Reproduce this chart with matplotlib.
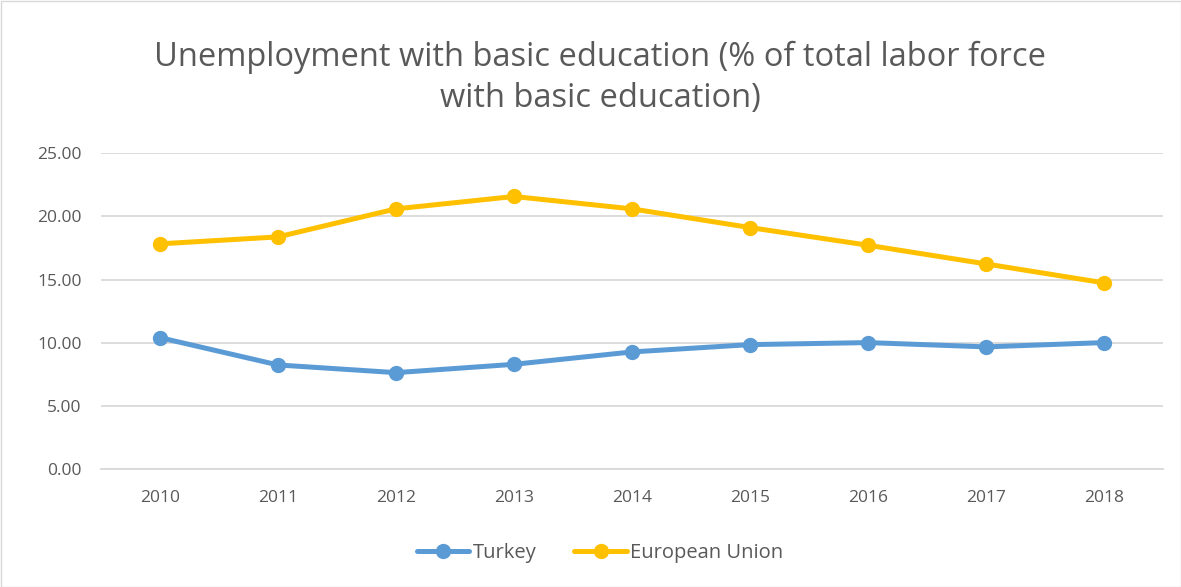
import matplotlib
matplotlib.use("Agg")
import matplotlib.pyplot as plt
from matplotlib.patches import Rectangle

years = ["2010", "2011", "2012", "2013", "2014", "2015", "2016", "2017", "2018"]
turkey = [10.40, 8.24, 7.63, 8.29, 9.27, 9.85, 10.01, 9.67, 10.01]
eu = [17.83, 18.38, 20.60, 21.58, 20.60, 19.12, 17.72, 16.24, 14.74]
yticks = [0, 5, 10, 15, 20, 25]

plt.rcParams['font.family'] = ['Open Sans', 'DejaVu Sans']
text_col = '#595959'
grid_col = '#D9D9D9'

fig = plt.figure(figsize=(11.81, 5.87), dpi=100)
ax = fig.add_axes([101/1181, 1-469/587, (1163-101)/1181, (469-153.3)/587])

x = list(range(len(years)))
ax.plot(x, turkey, color='#5B9BD5', lw=3.6, marker='o', ms=10, label='Turkey', solid_capstyle='round', zorder=3)
ax.plot(x, eu, color='#FFC000', lw=3.6, marker='o', ms=10, label='European Union', solid_capstyle='round', zorder=3)

ax.set_xlim(-0.5, len(years) - 0.5)
ax.set_ylim(0, 25)
ax.set_yticks(yticks)
ax.set_yticklabels([f"{v:.2f}" for v in yticks])
ax.set_xticks(x)
ax.set_xticklabels(years)
ax.grid(axis='y', color=grid_col, lw=1.3)
ax.set_axisbelow(True)
for s in ['top', 'right', 'left']:
    ax.spines[s].set_visible(False)
ax.spines['bottom'].set_color(grid_col)
ax.spines['bottom'].set_linewidth(1.3)
ax.tick_params(axis='both', length=0, labelsize=12.5, colors=text_col)
ax.tick_params(axis='y', pad=14)
ax.tick_params(axis='x', pad=15)

fig.text(0.508, 0.867, "Unemployment with basic education (% of total labor force\nwith basic education)",
         ha='center', va='center', fontsize=23.5, color=text_col, linespacing=1.3)

leg = fig.legend(loc='center', bbox_to_anchor=(0.508, 1-553/587), ncol=2, frameon=False,
                 fontsize=14.5, handlelength=2.6, columnspacing=1.9, handletextpad=0.15)
for t in leg.get_texts():
    t.set_color(text_col)

fig.add_artist(Rectangle((0.5/1181, 0.5/587), 1-1/1181, 1-1/587, transform=fig.transFigure,
                         fill=False, edgecolor=grid_col, lw=1))

fig.savefig('out.png', dpi=100, facecolor='white')
